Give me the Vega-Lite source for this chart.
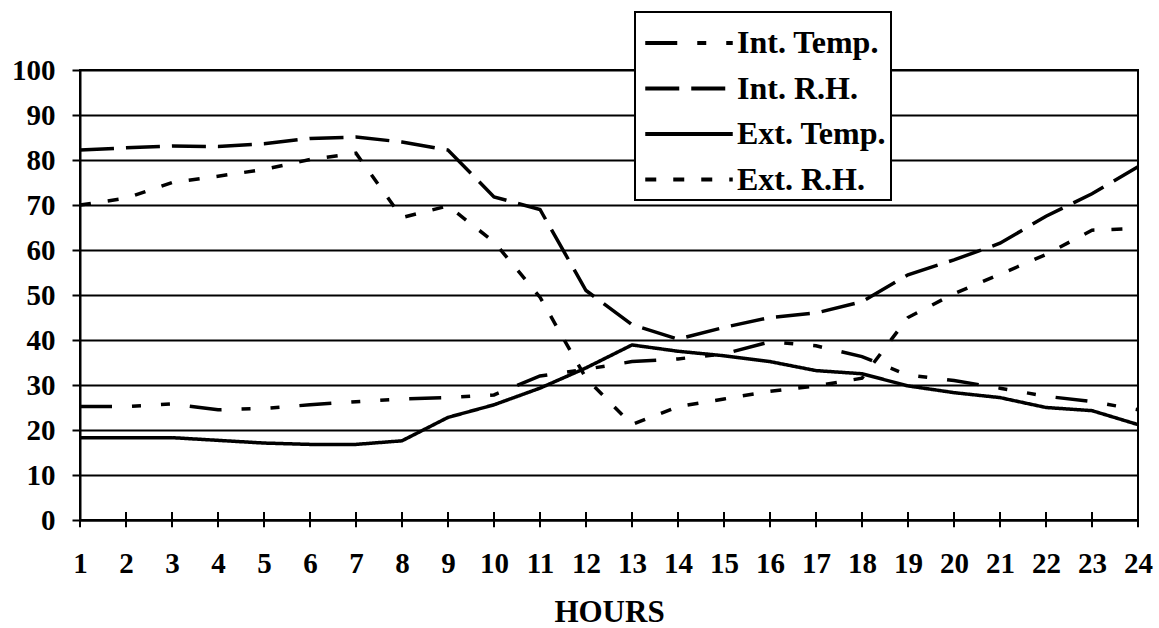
{
  "$schema": "https://vega.github.io/schema/vega-lite/v6.json",
  "width": 1058,
  "height": 450,
  "autosize": "none",
  "padding": {"left": 80, "top": 70, "right": 21, "bottom": 108},
  "background": "white",
  "config": {
    "font": "Liberation Serif",
    "view": {"stroke": "black", "strokeWidth": 2},
    "legend": {"strokeWidth": 2},
    "axis": {
      "labelFont": "Liberation Serif",
      "labelFontWeight": "bold",
      "labelColor": "black",
      "labelFontSize": 29,
      "domainColor": "black",
      "domainWidth": 2,
      "tickColor": "black",
      "tickWidth": 2,
      "titleFont": "Liberation Serif",
      "titleFontWeight": "bold",
      "titleColor": "black"
    }
  },
  "datasets": {
    "series": [
      {"hour": 1, "series": "Int. Temp.", "value": 25.2},
      {"hour": 2, "series": "Int. Temp.", "value": 25.2},
      {"hour": 3, "series": "Int. Temp.", "value": 25.8},
      {"hour": 4, "series": "Int. Temp.", "value": 24.5},
      {"hour": 5, "series": "Int. Temp.", "value": 24.8},
      {"hour": 6, "series": "Int. Temp.", "value": 25.6},
      {"hour": 7, "series": "Int. Temp.", "value": 26.3},
      {"hour": 8, "series": "Int. Temp.", "value": 26.9},
      {"hour": 9, "series": "Int. Temp.", "value": 27.2},
      {"hour": 10, "series": "Int. Temp.", "value": 27.8},
      {"hour": 11, "series": "Int. Temp.", "value": 32.0},
      {"hour": 12, "series": "Int. Temp.", "value": 33.5},
      {"hour": 13, "series": "Int. Temp.", "value": 35.2},
      {"hour": 14, "series": "Int. Temp.", "value": 35.8},
      {"hour": 15, "series": "Int. Temp.", "value": 36.9},
      {"hour": 16, "series": "Int. Temp.", "value": 39.6},
      {"hour": 17, "series": "Int. Temp.", "value": 38.7},
      {"hour": 18, "series": "Int. Temp.", "value": 36.3},
      {"hour": 19, "series": "Int. Temp.", "value": 32.2},
      {"hour": 20, "series": "Int. Temp.", "value": 31.0},
      {"hour": 21, "series": "Int. Temp.", "value": 29.3},
      {"hour": 22, "series": "Int. Temp.", "value": 27.5},
      {"hour": 23, "series": "Int. Temp.", "value": 26.3},
      {"hour": 24, "series": "Int. Temp.", "value": 24.5},
      {"hour": 1, "series": "Int. R.H.", "value": 82.2},
      {"hour": 2, "series": "Int. R.H.", "value": 82.7},
      {"hour": 3, "series": "Int. R.H.", "value": 83.1},
      {"hour": 4, "series": "Int. R.H.", "value": 83.0},
      {"hour": 5, "series": "Int. R.H.", "value": 83.6},
      {"hour": 6, "series": "Int. R.H.", "value": 84.8},
      {"hour": 7, "series": "Int. R.H.", "value": 85.1},
      {"hour": 8, "series": "Int. R.H.", "value": 84.0},
      {"hour": 9, "series": "Int. R.H.", "value": 82.2},
      {"hour": 10, "series": "Int. R.H.", "value": 71.8},
      {"hour": 11, "series": "Int. R.H.", "value": 69.0},
      {"hour": 12, "series": "Int. R.H.", "value": 51.0},
      {"hour": 13, "series": "Int. R.H.", "value": 43.4},
      {"hour": 14, "series": "Int. R.H.", "value": 40.2},
      {"hour": 15, "series": "Int. R.H.", "value": 42.8},
      {"hour": 16, "series": "Int. R.H.", "value": 45.0},
      {"hour": 17, "series": "Int. R.H.", "value": 46.0},
      {"hour": 18, "series": "Int. R.H.", "value": 48.5},
      {"hour": 19, "series": "Int. R.H.", "value": 54.5},
      {"hour": 20, "series": "Int. R.H.", "value": 57.8},
      {"hour": 21, "series": "Int. R.H.", "value": 61.5},
      {"hour": 22, "series": "Int. R.H.", "value": 67.5},
      {"hour": 23, "series": "Int. R.H.", "value": 72.5},
      {"hour": 24, "series": "Int. R.H.", "value": 78.5},
      {"hour": 1, "series": "Ext. Temp.", "value": 18.3},
      {"hour": 2, "series": "Ext. Temp.", "value": 18.3},
      {"hour": 3, "series": "Ext. Temp.", "value": 18.3},
      {"hour": 4, "series": "Ext. Temp.", "value": 17.7},
      {"hour": 5, "series": "Ext. Temp.", "value": 17.1},
      {"hour": 6, "series": "Ext. Temp.", "value": 16.8},
      {"hour": 7, "series": "Ext. Temp.", "value": 16.8},
      {"hour": 8, "series": "Ext. Temp.", "value": 17.6},
      {"hour": 9, "series": "Ext. Temp.", "value": 22.8},
      {"hour": 10, "series": "Ext. Temp.", "value": 25.6},
      {"hour": 11, "series": "Ext. Temp.", "value": 29.3},
      {"hour": 12, "series": "Ext. Temp.", "value": 33.8},
      {"hour": 13, "series": "Ext. Temp.", "value": 38.9},
      {"hour": 14, "series": "Ext. Temp.", "value": 37.5},
      {"hour": 15, "series": "Ext. Temp.", "value": 36.5},
      {"hour": 16, "series": "Ext. Temp.", "value": 35.2},
      {"hour": 17, "series": "Ext. Temp.", "value": 33.2},
      {"hour": 18, "series": "Ext. Temp.", "value": 32.5},
      {"hour": 19, "series": "Ext. Temp.", "value": 29.8},
      {"hour": 20, "series": "Ext. Temp.", "value": 28.3},
      {"hour": 21, "series": "Ext. Temp.", "value": 27.2},
      {"hour": 22, "series": "Ext. Temp.", "value": 25.0},
      {"hour": 23, "series": "Ext. Temp.", "value": 24.3},
      {"hour": 24, "series": "Ext. Temp.", "value": 21.2},
      {"hour": 1, "series": "Ext. R.H.", "value": 70.0},
      {"hour": 2, "series": "Ext. R.H.", "value": 71.5},
      {"hour": 3, "series": "Ext. R.H.", "value": 75.0},
      {"hour": 4, "series": "Ext. R.H.", "value": 76.4},
      {"hour": 5, "series": "Ext. R.H.", "value": 77.9},
      {"hour": 6, "series": "Ext. R.H.", "value": 80.1},
      {"hour": 7, "series": "Ext. R.H.", "value": 81.5},
      {"hour": 8, "series": "Ext. R.H.", "value": 67.2},
      {"hour": 9, "series": "Ext. R.H.", "value": 69.8},
      {"hour": 10, "series": "Ext. R.H.", "value": 61.8},
      {"hour": 11, "series": "Ext. R.H.", "value": 49.5},
      {"hour": 12, "series": "Ext. R.H.", "value": 31.5},
      {"hour": 13, "series": "Ext. R.H.", "value": 21.2},
      {"hour": 14, "series": "Ext. R.H.", "value": 25.2},
      {"hour": 15, "series": "Ext. R.H.", "value": 26.9},
      {"hour": 16, "series": "Ext. R.H.", "value": 28.6},
      {"hour": 17, "series": "Ext. R.H.", "value": 29.8},
      {"hour": 18, "series": "Ext. R.H.", "value": 31.5},
      {"hour": 19, "series": "Ext. R.H.", "value": 45.0},
      {"hour": 20, "series": "Ext. R.H.", "value": 50.3},
      {"hour": 21, "series": "Ext. R.H.", "value": 54.6},
      {"hour": 22, "series": "Ext. R.H.", "value": 59.0},
      {"hour": 23, "series": "Ext. R.H.", "value": 64.4},
      {"hour": 24, "series": "Ext. R.H.", "value": 64.8}
    ]
  },
  "data": {"name": "series"},
  "layer": [
    {
      "mark": {"type": "line", "strokeWidth": 3.5, "color": "black"},
      "encoding": {
        "x": {
          "field": "hour",
          "type": "quantitative",
          "scale": {"domain": [1, 24], "nice": false, "zero": false},
          "axis": {
            "values": [1,2,3,4,5,6,7,8,9,10,11,12,13,14,15,16,17,18,19,20,21,22,23,24],
            "grid": false,
            "ticks": false,
            "tickSize": 0,
            "labelFlush": false,
            "labelOverlap": false,
            "labelPadding": 29,
            "labelFontSize": 29,
            "title": "HOURS",
            "titleFontSize": 31,
            "titlePadding": 19
          }
        },
        "y": {
          "field": "value",
          "type": "quantitative",
          "scale": {"domain": [0, 100], "nice": false},
          "axis": {
            "values": [0,10,20,30,40,50,60,70,80,90,100],
            "grid": true,
            "gridColor": "black",
            "gridWidth": 2,
            "gridOpacity": 1,
            "tickSize": 8,
            "labelPadding": 17,
            "labelFontSize": 29,
            "title": null
          }
        },
        "strokeDash": {
          "field": "series",
          "type": "nominal",
          "scale": {
            "domain": ["Int. Temp.", "Int. R.H.", "Ext. Temp.", "Ext. R.H."],
            "range": [[32, 20, 9, 20, 9, 20], [34, 12], [1, 0], [11, 17]]
          },
          "legend": {
            "orient": "none",
            "legendX": 555,
            "legendY": -58,
            "title": null,
            "strokeColor": "black",
            "fillColor": "white",
            "padding": 4,
            "labelFont": "Liberation Serif",
            "labelFontWeight": "bold",
            "labelFontSize": 32,
            "labelColor": "black",
            "labelLimit": 400,
            "labelOffset": 21,
            "symbolType": "M-1.75,0H1.75",
            "symbolSize": 2500,
            "symbolOffset": 23,
            "symbolStrokeWidth": 4,
            "symbolStrokeColor": "black",
            "rowPadding": 2.5
          }
        }
      }
    },
    {
      "transform": [{"filter": "datum.series === 'Ext. Temp.'"}],
      "mark": {"type": "rule", "color": "black", "strokeWidth": 2},
      "encoding": {
        "x": {"field": "hour", "type": "quantitative"},
        "y": {"datum": -1.6},
        "y2": {"datum": 1.8}
      }
    }
  ]
}
